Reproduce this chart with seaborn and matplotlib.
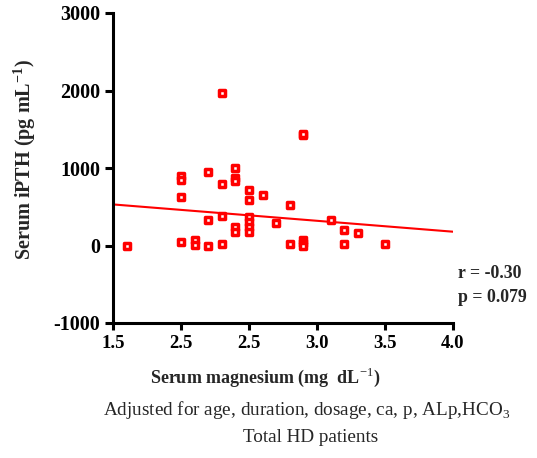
import matplotlib
matplotlib.use("Agg")
import matplotlib.pyplot as plt
import seaborn as sns
import pandas as pd

# Data
mg = [1.6, 2.0, 2.0, 2.0, 2.0, 2.1, 2.1, 2.2, 2.2, 2.2,
      2.3, 2.3, 2.3, 2.3, 2.4, 2.4, 2.4, 2.4, 2.4,
      2.5, 2.5, 2.5, 2.5, 2.5, 2.5, 2.6, 2.7, 2.8, 2.8,
      2.9, 2.9, 2.9, 2.9, 2.9, 3.1, 3.2, 3.3, 3.2, 3.5]
pth = [0, 900, 840, 630, 40, 70, 10, 950, 335, -5,
       1970, 790, 375, 15, 1000, 865, 835, 235, 170,
       710, 585, 370, 300, 236, 172, 655, 290, 525, 25,
       1420, 1440, 70, 35, 0, 325, 205, 165, 20, 20]
fit_x = [1.5, 4.0]
fit_y = [530, 178]
x_ticks = [1.5, 2.0, 2.5, 3.0, 3.5, 4.0]
x_tick_labels = ["1.5", "2.5", "2.5", "3.0", "3.5", "4.0"]
y_ticks = [-1000, 0, 1000, 2000, 3000]
y_tick_labels = ["-1000", "0", "1000", "2000", "3000"]

sns.set_style("ticks")
plt.rcParams["font.family"] = ["Liberation Serif", "DejaVu Serif"]
plt.rcParams["mathtext.fontset"] = "custom"
plt.rcParams["mathtext.rm"] = "Liberation Serif"
plt.rcParams["mathtext.bf"] = "Liberation Serif:bold"

fig = plt.figure(figsize=(5.37, 4.58), dpi=100)
ax = fig.add_axes([113 / 537, 1 - 323 / 458, 340 / 537, 310 / 458])

df = pd.DataFrame({"mg": mg, "pth": pth})
line_df = pd.DataFrame({"x": fit_x, "y": fit_y})

sns.lineplot(data=line_df, x="x", y="y", ax=ax, color="#ff0000", linewidth=1.5)
sns.scatterplot(data=df, x="mg", y="pth", ax=ax, marker="s", s=17,
                facecolor="white", edgecolor="#ff0000", linewidth=2.5, zorder=3)

ax.set_xlim(1.5, 4.0)
ax.set_ylim(-1000, 3000)
ax.set_xticks(x_ticks)
ax.set_xticklabels(x_tick_labels, fontsize=13.5, fontweight="bold")
ax.set_yticks(y_ticks)
ax.set_yticklabels(y_tick_labels, fontsize=14.5, fontweight="bold")
ax.set_xlabel("")
ax.set_ylabel("")
sns.despine(ax=ax)
for s in ["left", "bottom"]:
    ax.spines[s].set_linewidth(2.2)
    ax.spines[s].set_color("black")
ax.tick_params(axis="y", length=6, width=2.2, pad=3, colors="black")
ax.tick_params(axis="x", length=5, width=2.2, pad=4, colors="black")

fig.text(25 / 537, 1 - 160 / 458, r"Serum iPTH (pg mL$^{\mathbf{-1}}$)", rotation=90,
         ha="center", va="center", fontsize=14.5, fontweight="bold")
fig.text(265 / 537, 1 - 377 / 458, r"Serum magnesium (mg  dL$^{-1}$)",
         ha="center", va="center", fontsize=13, fontweight="bold")
fig.text(306.5 / 537, 1 - 410 / 458, r"Adjusted for age, duration, dosage, ca, p, ALp,HCO$_3$",
         ha="center", va="center", fontsize=13.8)
fig.text(310.5 / 537, 1 - 438 / 458, "Total HD patients",
         ha="center", va="center", fontsize=13.8)
fig.text(458 / 537, 1 - 274 / 458, "r = -0.30", ha="left", va="center",
         fontsize=12.8, fontweight="bold")
fig.text(458 / 537, 1 - 297 / 458, "p = 0.079", ha="left", va="center",
         fontsize=12.8, fontweight="bold")

fig.savefig("out.png", dpi=100)
